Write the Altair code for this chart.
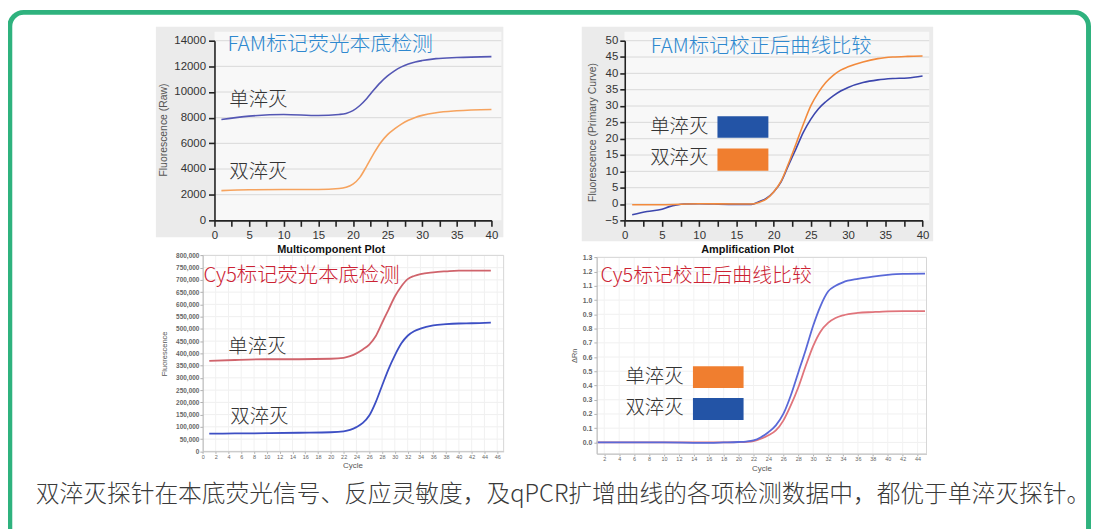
import altair as alt
import pandas as pd

W, H = 1091, 521
CJK = "Noto Sans CJK SC"
LAT = "Liberation Sans"

# ---------------- data ----------------
# FAM multicomponent (raw fluorescence)
fam_raw_cycles = [1, 5, 10, 15, 18, 19, 20, 21, 22, 23, 24, 25, 26, 27, 28, 29, 30, 32, 35, 40]
fam_raw_single = [7860, 8120, 8250, 8170, 8250, 8330, 8550, 8950, 9500, 10150, 10750, 11250,
                  11650, 11960, 12180, 12340, 12450, 12600, 12690, 12760]
fam_raw_double = [2320, 2380, 2400, 2400, 2480, 2580, 2820, 3350, 4250, 5200, 6050, 6680,
                  7120, 7500, 7800, 8020, 8180, 8390, 8540, 8640]

# FAM amplification (primary curve)
fam_amp_cycles_single = [1, 3, 5, 6, 7, 8, 10, 12, 15, 17, 18, 19, 20, 21, 22, 23, 24, 25, 26,
                         27, 28, 29, 30, 32, 34, 36, 38, 40]
fam_amp_single = [-3.3, -2.3, -1.6, -0.8, -0.3, 0.0, 0.1, 0.0, -0.1, -0.1, 0.7, 1.7, 3.7, 6.8,
                  11.9, 16.9, 22.0, 26.0, 29.1, 31.3, 33.1, 34.6, 35.7, 37.2, 38.0, 38.4, 38.6, 39.2]
fam_amp_cycles_double = [1, 5, 10, 15, 17, 18, 19, 20, 21, 22, 23, 24, 25, 26, 27, 28, 29, 30,
                         32, 34, 36, 38, 40]
fam_amp_double = [-0.2, -0.2, 0.1, 0.0, 0.0, 0.5, 1.5, 3.7, 7.0, 12.4, 18.4, 24.5, 30.1, 34.1,
                  37.2, 39.4, 41.0, 42.0, 43.5, 44.5, 45.0, 45.2, 45.3]

# Cy5 multicomponent (raw fluorescence)
cy5_raw_cycles = [1, 5, 10, 15, 20, 22, 23, 24, 25, 26, 27, 28, 29, 30, 31, 32, 33, 34, 36, 38,
                  40, 42, 45]
cy5_raw_single = [369000, 373000, 376000, 376000, 378000, 382000, 389000, 400000, 416000, 436000,
                  470000, 524000, 578000, 632000, 673000, 703000, 716000, 724000, 731000, 735000,
                  738000, 738000, 738000]
cy5_raw_double = [72000, 73000, 74000, 76000, 78000, 82000, 88000, 99000, 116000, 146000, 200000,
                  268000, 335000, 392000, 440000, 472000, 490000, 501000, 514000, 519000, 522000,
                  523000, 526000]

# Cy5 amplification (delta Rn)
cy5_amp_cycles = [1, 5, 10, 15, 18, 20, 21, 22, 23, 24, 25, 26, 27, 28, 29, 30, 31, 32, 33, 34,
                  36, 38, 40, 42, 45]
cy5_amp_double = [0, 0, 0, -0.003, 0, 0.003, 0.006, 0.014, 0.037, 0.072, 0.12, 0.2, 0.33, 0.49,
                  0.65, 0.82, 0.96, 1.06, 1.10, 1.125, 1.149, 1.165, 1.177, 1.184, 1.186]
cy5_amp_single = [0, 0, 0, 0, 0, 0.002, 0.004, 0.01, 0.026, 0.05, 0.084, 0.153, 0.26, 0.386,
                  0.537, 0.677, 0.78, 0.84, 0.874, 0.893, 0.91, 0.916, 0.921, 0.923, 0.923]

# tick values
p1_xticks = [i * 2.5 for i in range(17)]
p1_yticks = list(range(0, 14001, 2000))
p2_xticks = [i * 2.5 for i in range(17)]
p2_yticks = list(range(-5, 51, 5))
p3_xticks = list(range(0, 47, 2))
p3_yticks = list(range(0, 800001, 50000))
p4_xticks = list(range(2, 45, 2))
p4_yticks = [round(i * 0.1, 1) for i in range(14)]

one = pd.DataFrame({"k": [0]})


def box(x1, x2, y1, y2, **mk):
    return alt.Chart(one).mark_rect(**mk).encode(
        x=alt.value(x1), x2=alt.value(x2), y=alt.value(y1), y2=alt.value(y2))


def label(text, x, y, size, color, font=CJK, weight=300):
    return alt.Chart(one).mark_text(text=text, align="left", baseline="middle", font=font,
                                    fontSize=size, color=color, fontWeight=weight).encode(
        x=alt.value(x), y=alt.value(y))


def line(cycles, values, color, xs, ys, ax, ay, width=1.6):
    df = pd.DataFrame({"cycle": cycles, "value": values})
    return alt.Chart(df).mark_line(color=color, strokeWidth=width, interpolate="monotone").encode(
        x=alt.X("cycle:Q", scale=xs, axis=ax),
        y=alt.Y("value:Q", scale=ys, axis=ay))


def hgrid(vals, xs, ys, ax, ay, x0, x1px, color):
    return alt.Chart(pd.DataFrame({"v": vals})).mark_rule(color=color, strokeWidth=1).encode(
        y=alt.Y("v:Q", scale=ys, axis=ay),
        x=alt.XDatum(x0, scale=xs, axis=ax), x2=alt.value(x1px))


def vgrid(vals, xs, ys, ax, ay, y0, y1, color):
    return alt.Chart(pd.DataFrame({"v": vals})).mark_rule(color=color, strokeWidth=1).encode(
        x=alt.X("v:Q", scale=xs, axis=ax),
        y=alt.YDatum(y0, scale=ys, axis=ay), y2=alt.datum(y1))


def border(xs, ys, ax, ay, xd, yd, color):
    return alt.Chart(one).mark_rect(fillOpacity=0, stroke=color, strokeWidth=1).encode(
        x=alt.XDatum(xd[0], scale=xs, axis=ax), x2=alt.datum(xd[1]),
        y=alt.YDatum(yd[0], scale=ys, axis=ay), y2=alt.datum(yd[1]))


common = dict(grid=False, zindex=1, labelFlush=False, labelOverlap=False)
dark = dict(domainColor="#222", domainWidth=1.6, tickColor="#222", tickWidth=1.6,
            labelFont=LAT, labelColor="#333", titleFont=LAT)
light = dict(domainColor="#c4c4c4", domainWidth=1, tickColor="#b0b0b0", tickWidth=1,
             labelFont=LAT, labelColor="#666", titleFont=LAT, titleColor="#555",
             titleFontWeight="normal")
five = "datum.value % 5 == 0 ? format(datum.value, 'd') : ''"

# ---------------- panel 1: FAM raw ----------------
x1 = alt.Scale(domain=[0, 40], range=[208, 487], nice=False, zero=False)
y1 = alt.Scale(domain=[0, 14000], range=[212, 31], nice=False, zero=False)
ax1x = alt.Axis(orient="bottom", offset=212 - H, values=p1_xticks, labelExpr=five,
                tickSize=6, labelPadding=3, labelFontSize=11.5,
                title="Multicomponent Plot", titleX=325, titleY=29, titleAlign="center",
                titleBaseline="middle", titleFontSize=11, titleFontWeight="bold",
                titleColor="#111", **dark, **common)
ax1y = alt.Axis(orient="left", offset=-208, values=p1_yticks, format="d", tickSize=6,
                labelPadding=3, labelFontSize=11.5,
                title="Fluorescence (Raw)", titleX=-51, titleY=120.5, titleAngle=270,
                titleAlign="center", titleBaseline="middle", titleFontSize=10.5,
                titleFontWeight="normal", titleColor="#555", **dark, **common)
p1 = alt.layer(
    box(149, 499, 17, 229, color="#ebebeb"),
    box(208, 497, 22, 212, color="#f8f8f8"),
    hgrid(p1_yticks[1:], x1, y1, ax1x, ax1y, 0, 497, "#d9d9d9"),
    line(fam_raw_cycles, fam_raw_single, "#5457b4", x1, y1, ax1x, ax1y),
    line(fam_raw_cycles, fam_raw_double, "#f6a35e", x1, y1, ax1x, ax1y),
)

# ---------------- panel 2: FAM amplification ----------------
x2 = alt.Scale(domain=[0, 40], range=[621.3, 921.3], nice=False, zero=False)
y2 = alt.Scale(domain=[-5, 50], range=[212, 31], nice=False, zero=False)
ax2x = alt.Axis(orient="bottom", offset=212 - H, values=p2_xticks, labelExpr=five,
                tickSize=6, labelPadding=3, labelFontSize=11.5,
                title="Amplification Plot", titleX=744.5, titleY=29, titleAlign="center",
                titleBaseline="middle", titleFontSize=11, titleFontWeight="bold",
                titleColor="#111", **dark, **common)
ax2y = alt.Axis(orient="left", offset=-621.3, values=p2_yticks, format="d", tickSize=5,
                labelPadding=2, labelFontSize=11.5,
                title="Fluorescence (Primary Curve)", titleX=-32, titleY=123, titleAngle=270,
                titleAlign="center", titleBaseline="middle", titleFontSize=10.5,
                titleFontWeight="normal", titleColor="#555", **dark, **common)
p2 = alt.layer(
    box(578, 932, 17, 233, color="#ebebeb"),
    box(621, 928, 22, 212, color="#f8f8f8"),
    hgrid([v for v in p2_yticks if v != -5], x2, y2, ax2x, ax2y, 0, 928, "#d9d9d9"),
    line(fam_amp_cycles_single, fam_amp_single, "#3c46ad", x2, y2, ax2x, ax2y),
    line(fam_amp_cycles_double, fam_amp_double, "#f28a3c", x2, y2, ax2x, ax2y),
)

# ---------------- panel 3: Cy5 raw ----------------
x3 = alt.Scale(domain=[0, 47], range=[196.3, 499.3], nice=False, zero=False)
y3 = alt.Scale(domain=[0, 800000], range=[444.7, 247.3], nice=False, zero=False)
ax3x = alt.Axis(orient="bottom", offset=444.7 - H, values=p3_xticks, format="d", tickSize=2,
                labelPadding=1, labelFontSize=5.5,
                title="Cycle", titleX=347, titleY=14, titleAlign="center",
                titleBaseline="middle", titleFontSize=8, **light, **common)
ax3y = alt.Axis(orient="left", offset=-196.3, values=p3_yticks, format=",d", tickSize=3,
                labelPadding=1, labelFontSize=6.5, labelFontWeight="bold",
                title="Fluorescence", titleX=-39, titleY=346, titleAngle=270,
                titleAlign="center", titleBaseline="middle", titleFontSize=7.5,
                **light, **common)
p3 = alt.layer(
    hgrid(p3_yticks[1:], x3, y3, ax3x, ax3y, 0, 499.3, "#efefef"),
    vgrid(p3_xticks[1:], x3, y3, ax3x, ax3y, 0, 800000, "#f1f1f1"),
    border(x3, y3, ax3x, ax3y, [0, 47], [0, 800000], "#d6d6d6"),
    line(cy5_raw_cycles, cy5_raw_single, "#d0646c", x3, y3, ax3x, ax3y, width=1.8),
    line(cy5_raw_cycles, cy5_raw_double, "#3d4fc4", x3, y3, ax3x, ax3y, width=1.8),
)

# ---------------- panel 4: Cy5 amplification ----------------
x4 = alt.Scale(domain=[1, 45.2], range=[593.2, 925.3], nice=False, zero=False)
y4 = alt.Scale(domain=[-0.08, 1.3], range=[447.2, 249.3], nice=False, zero=False)
ax4x = alt.Axis(orient="bottom", offset=447.2 - H, values=p4_xticks, format="d", tickSize=2,
                labelPadding=1, labelFontSize=5.5,
                title="Cycle", titleX=759, titleY=15, titleAlign="center",
                titleBaseline="middle", titleFontSize=8, **light, **common)
ax4y = alt.Axis(orient="left", offset=-593.2, values=p4_yticks, format=".1f", tickSize=3,
                labelPadding=2, labelFontSize=7, labelFontWeight="bold",
                title="ΔRn", titleX=-23, titleY=348, titleAngle=270,
                titleAlign="center", titleBaseline="middle", titleFontSize=7.5,
                **light, **common)
p4 = alt.layer(
    hgrid(p4_yticks, x4, y4, ax4x, ax4y, 1, 925.3, "#f0f0f0"),
    vgrid(p4_xticks, x4, y4, ax4x, ax4y, -0.08, 1.3, "#f2f2f2"),
    border(x4, y4, ax4x, ax4y, [1, 45.2], [-0.08, 1.3], "#d6d6d6"),
    line(cy5_amp_cycles, cy5_amp_single, "#e0747b", x4, y4, ax4x, ax4y, width=1.8),
    line(cy5_amp_cycles, cy5_amp_double, "#5a69d8", x4, y4, ax4x, ax4y, width=1.8),
)

# ---------------- annotations ----------------
BLUE_T, RED_T, INK = "#2e88cf", "#cc2233", "#333333"
notes = [
    label("FAM标记荧光本底检测", 221, 35.5, 21, BLUE_T),
    label("单淬灭", 223, 90.5, 19.5, INK),
    label("双淬灭", 223, 163, 19.5, INK),
    label("FAM标记校正后曲线比较", 647.5, 37.5, 20.5, BLUE_T),
    label("单淬灭", 647, 118, 19.5, INK),
    label("双淬灭", 647, 149.5, 19.5, INK),
    box(714.7, 766, 107, 128.7, color="#2354a6"),
    box(714.7, 766, 139.7, 162, color="#f07e2f"),
    label("Cy5标记荧光本底检测", 197, 268.5, 20.5, RED_T),
    label("单淬灭", 222, 339.5, 19.5, INK),
    label("双淬灭", 224, 410, 19.5, INK),
    label("Cy5标记校正后曲线比较", 597, 268.5, 20, RED_T),
    label("单淬灭", 622, 369.5, 19.5, INK),
    label("双淬灭", 622, 401, 19.5, INK),
    box(690, 741, 359, 381, color="#f07e2f"),
    box(690, 741, 391, 413, color="#2354a6"),
    label("双淬灭探针在本底荧光信号、反应灵敏度，及qPCR扩增曲线的各项检测数据中，都优于单淬灭探针。",
          28, 489, 23.9, "#3a3a3a"),
]

frame = alt.Chart(one).mark_rect(fillOpacity=0, stroke="#2fb27e", strokeWidth=5,
                                 cornerRadius=14).encode(
    x=alt.value(1.8), x2=alt.value(1088.5), y=alt.value(2.5), y2=alt.value(540))

chart = alt.layer(frame, p1, p2, p3, p4, *notes).resolve_scale(
    x="independent", y="independent").resolve_axis(
    x="independent", y="independent").properties(
    width=W, height=H, padding=0,
    autosize=alt.AutoSizeParams(type="none")).configure_view(stroke=None)

chart.save("out.html", embed_options={"renderer": "svg", "actions": False})
